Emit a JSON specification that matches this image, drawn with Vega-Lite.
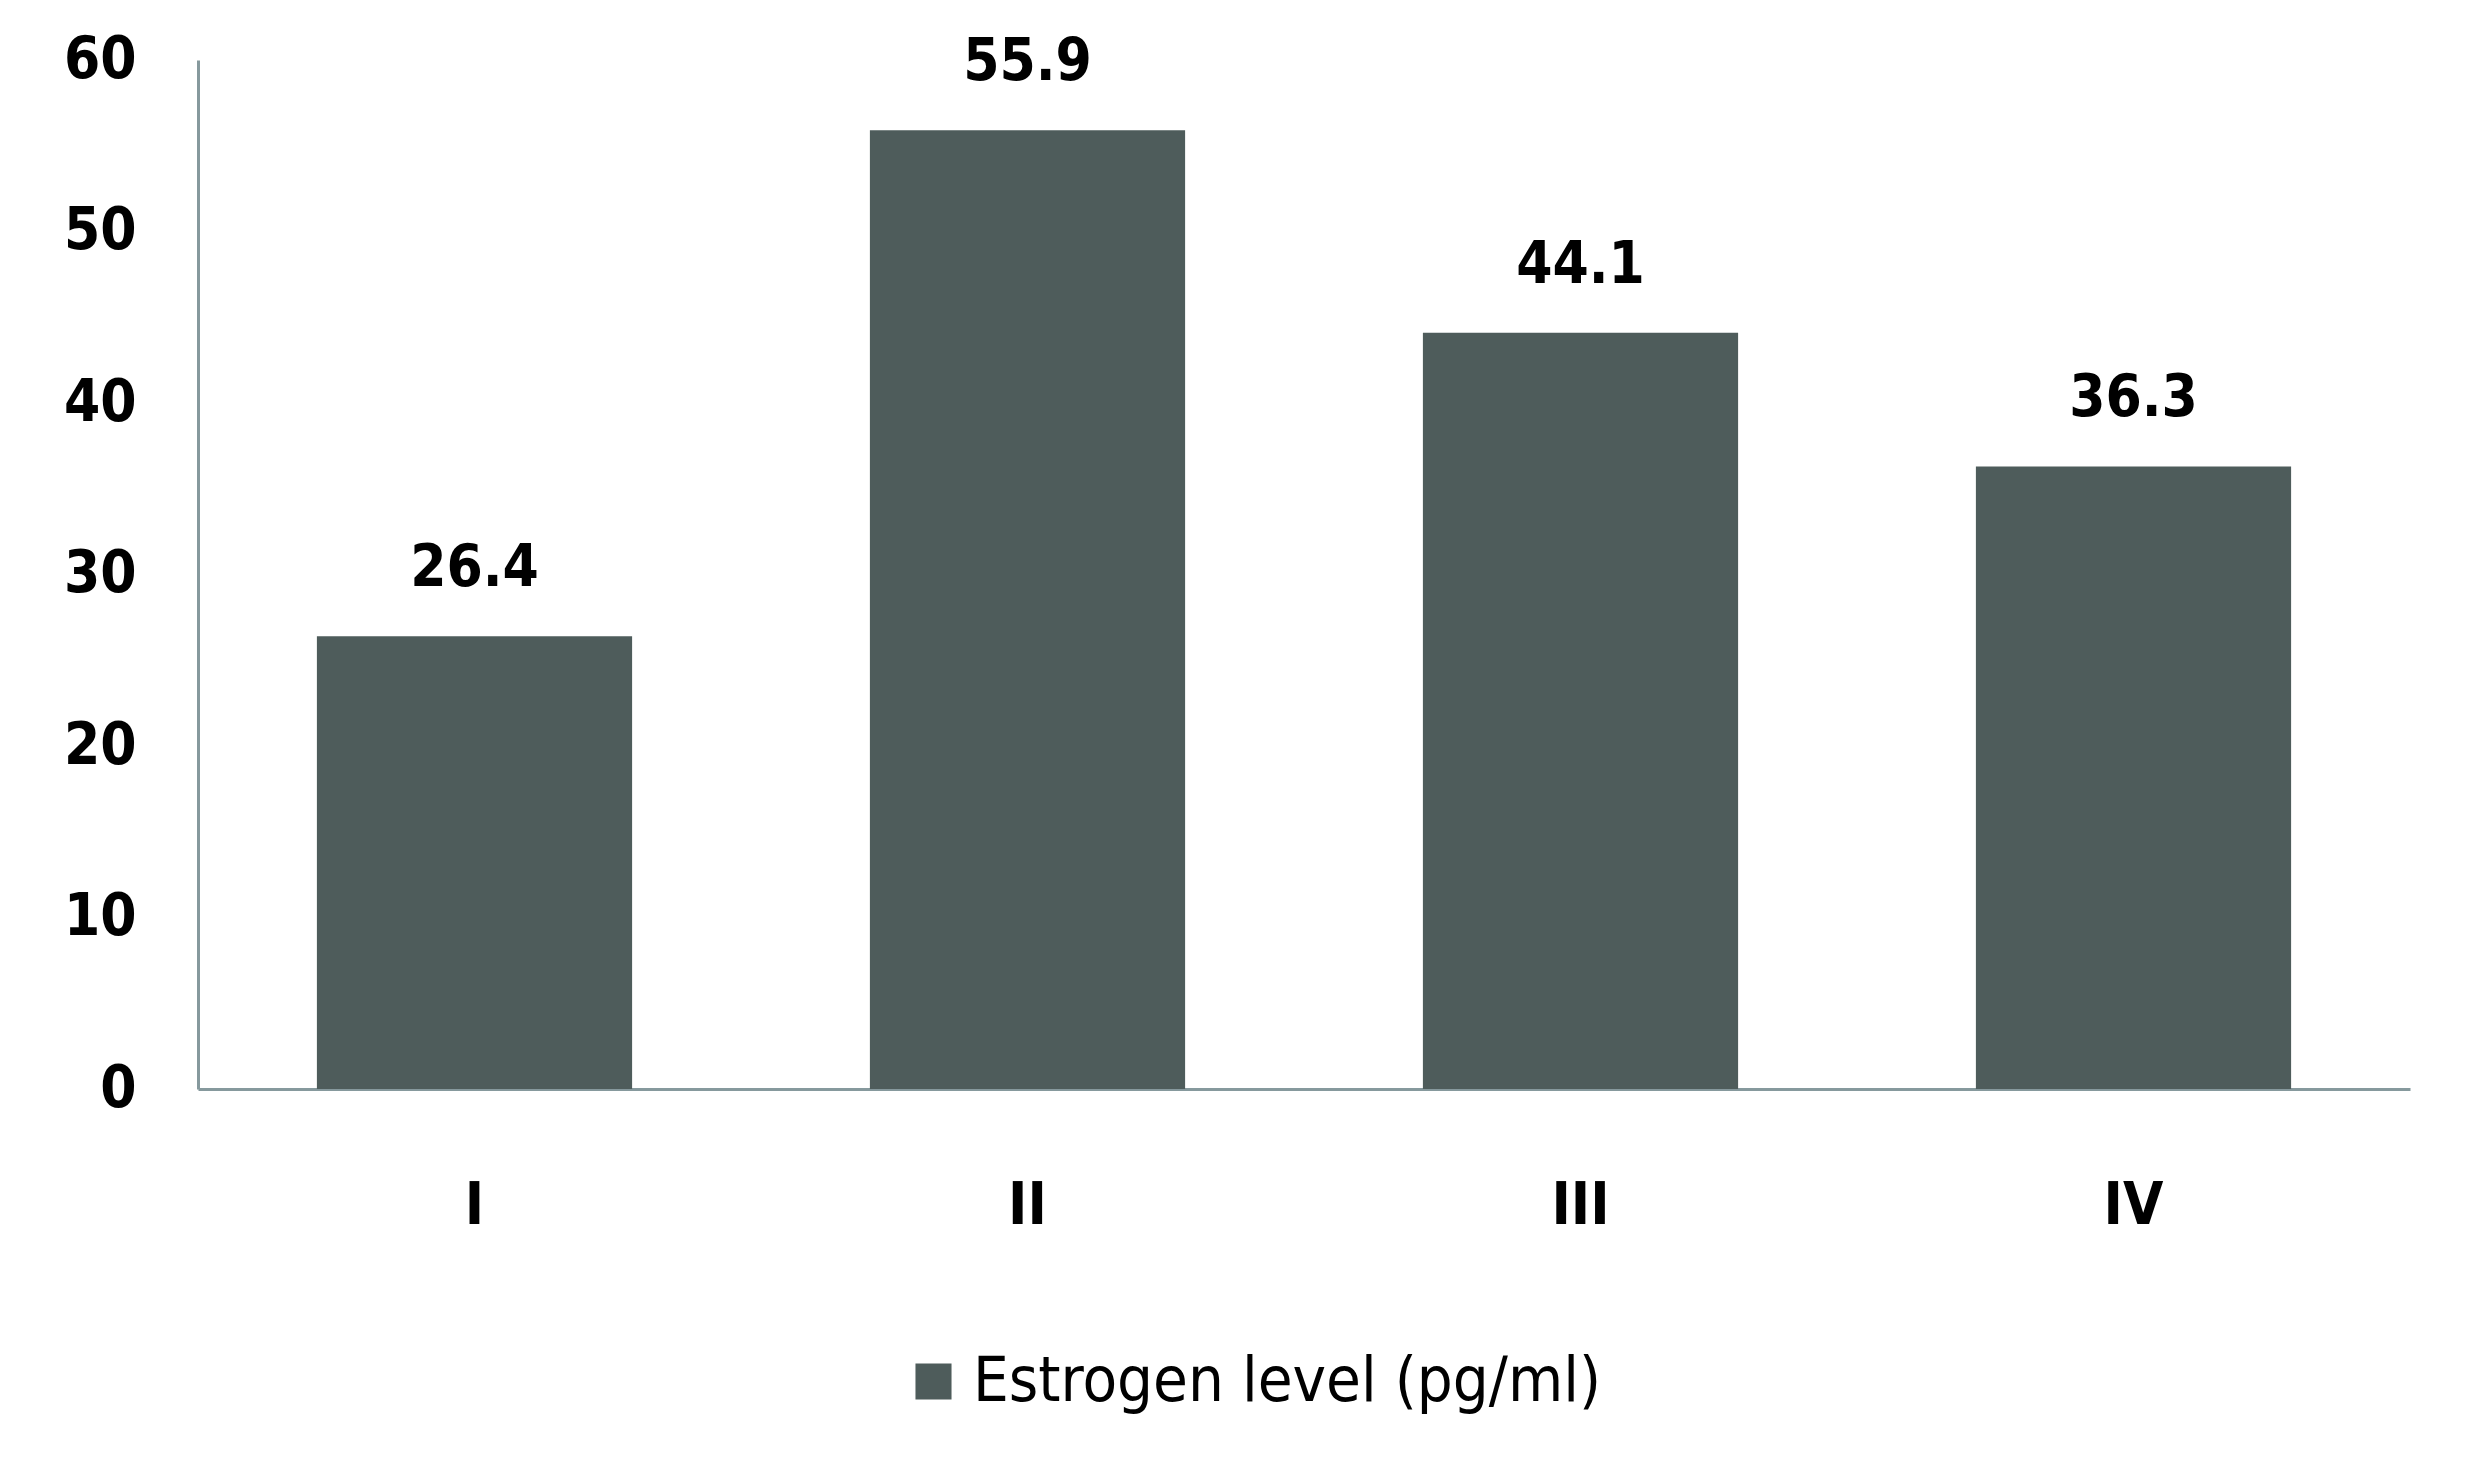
{
  "$schema": "https://vega.github.io/schema/vega-lite/v6.json",
  "autosize": {"type": "none"},
  "padding": {"left": 198, "top": 60, "right": 69, "bottom": 369},
  "width": 2212,
  "height": 1029,
  "background": "white",
  "config": {
    "view": {"stroke": null},
    "font": "DejaVu Sans Condensed"
  },
  "data": {
    "values": [
      {"stage": "I", "value": 26.4, "series": "Estrogen level (pg/ml)"},
      {"stage": "II", "value": 55.9, "series": "Estrogen level (pg/ml)"},
      {"stage": "III", "value": 44.1, "series": "Estrogen level (pg/ml)"},
      {"stage": "IV", "value": 36.3, "series": "Estrogen level (pg/ml)"}
    ]
  },
  "encoding": {
    "x": {
      "field": "stage",
      "type": "nominal",
      "sort": null,
      "scale": {"paddingInner": 0.43, "paddingOuter": 0.215},
      "axis": {
        "title": null,
        "labelAngle": 0,
        "ticks": false,
        "tickSize": 0,
        "labelPadding": 88,
        "labelFontSize": 58,
        "labelFontWeight": "bold",
        "labelColor": "#000000",
        "labelFont": "DejaVu Sans Condensed",
        "domainColor": "#86999d",
        "domainWidth": 3,
        "grid": false
      }
    },
    "y": {
      "field": "value",
      "type": "quantitative",
      "scale": {"domain": [0, 60], "nice": false},
      "axis": {
        "title": null,
        "values": [0, 10, 20, 30, 40, 50, 60],
        "ticks": false,
        "tickSize": 0,
        "labelPadding": 62,
        "labelFontSize": 58,
        "labelFontWeight": "bold",
        "labelColor": "#000000",
        "labelFont": "DejaVu Sans Condensed",
        "domainColor": "#86999d",
        "domainWidth": 3,
        "grid": false
      }
    }
  },
  "layer": [
    {
      "mark": {"type": "bar"},
      "encoding": {
        "color": {
          "field": "series",
          "type": "nominal",
          "scale": {"range": ["#4e5c5b"]},
          "legend": {
            "title": null,
            "orient": "none",
            "legendX": 704,
            "legendY": 1290,
            "symbolType": "square",
            "symbolSize": 1300,
            "symbolStrokeWidth": 0,
            "labelFontSize": 63,
            "labelFont": "DejaVu Sans Condensed",
            "labelColor": "#000000",
            "labelLimit": 1000,
            "labelOffset": 8
          }
        }
      }
    },
    {
      "mark": {"type": "text", "baseline": "alphabetic", "dy": -50, "fontSize": 58, "fontWeight": "bold", "color": "#000000", "font": "DejaVu Sans Condensed"},
      "encoding": {
        "text": {"field": "value", "type": "quantitative", "format": ".1f"}
      }
    }
  ]
}
